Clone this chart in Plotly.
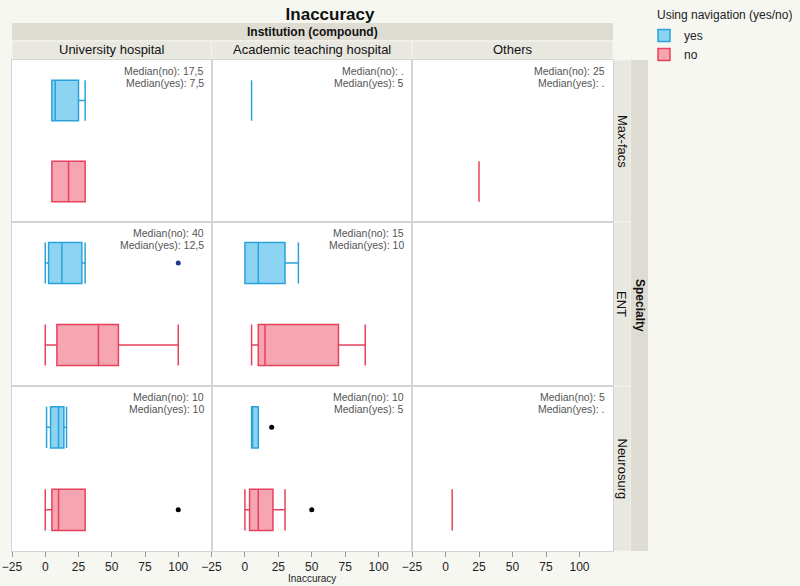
import plotly.graph_objects as go

# ---------------- data ----------------
specialties = ["Max-facs", "ENT", "Neurosurg"]
institutions = ["University hospital", "Academic teaching hospital", "Others"]
groups = ["yes", "no"]

# five-number summaries per [specialty][institution]; None = no data
yes_min = [[5, 5, None], [0, 0, None], [1, 5, None]]
yes_q1 = [[5, 5, None], [2.5, 0, None], [4, 5, None]]
yes_med = [[7.5, 5, None], [12.5, 10, None], [10, 5, None]]
yes_q3 = [[25, 5, None], [27.5, 30, None], [14, 10, None]]
yes_max = [[30, 5, None], [30, 40, None], [16, 10, None]]
yes_out = [[[], [], []], [[100], [], []], [[], [20], []]]

no_min = [[5, None, 25], [0, 5, None], [0, 0, 5]]
no_q1 = [[5, None, 25], [8.75, 10, None], [5, 3.5, 5]]
no_med = [[17.5, None, 25], [40, 15, None], [10, 10, 5]]
no_q3 = [[30, None, 25], [55, 70, None], [30, 21, 5]]
no_max = [[30, None, 25], [100, 90, None], [30, 30, 5]]
no_out = [[[], [], []], [[], [], []], [[100], [50], []]]

x_ticks = [-25, 0, 25, 50, 75, 100]
x_range = [-25, 125]

# ---------------- styling ----------------
YES_LINE, YES_FILL = "#2aa3dc", "rgba(120,205,238,0.85)"
NO_LINE, NO_FILL = "#e8415c", "rgba(243,150,165,0.85)"
BG = "#f7f7f2"
STRIP = "#e8e7e0"
STRIP2 = "#dfddd3"
FONT = "Liberation Sans, Arial, sans-serif"

W, H = 800, 586
L, R, T, B = 12, 187, 60, 35
PW, PH = W - L - R, H - T - B
col_px = [12, 211.5, 412, 613]
row_px = [60, 222, 386, 551]


def px_x(p):
    return (p - L) / PW


def px_y(p):
    return (H - B - p) / PH


fig = go.Figure()
layout = {}


def fmt(v):
    if v is None:
        return "."
    s = ("%g" % v)
    return s.replace(".", ",")


def label(x, y, text, size=12, color="#111", angle=0, xanchor="center"):
    fig.add_annotation(x=px_x(x), y=px_y(y), xref="paper", yref="paper", text=text,
                       showarrow=False, xanchor=xanchor, yanchor="middle", textangle=angle,
                       font=dict(size=size, color=color, family=FONT))


shown = {"yes": False, "no": False}
for r in range(3):
    for c in range(3):
        idx = r * 3 + c + 1
        xa = "x" if idx == 1 else "x%d" % idx
        ya = "y" if idx == 1 else "y%d" % idx
        xd = [px_x(col_px[c]), px_x(col_px[c + 1])]
        yd = [px_y(row_px[r + 1]), px_y(row_px[r])]
        bottom = r == 2
        layout["xaxis" if idx == 1 else "xaxis%d" % idx] = dict(
            domain=xd, anchor=ya, range=x_range, showgrid=False, zeroline=False,
            showline=True, mirror=True, linecolor="#d4d4d4", linewidth=1,
            tickvals=x_ticks, showticklabels=bottom,
            ticks="outside" if bottom else "", ticklen=5, tickcolor="#999",
            tickfont=dict(size=12, color="#222", family=FONT), fixedrange=True,
        )
        layout["yaxis" if idx == 1 else "yaxis%d" % idx] = dict(
            domain=yd, anchor=xa, range=[-0.5, 1.5], showgrid=False, zeroline=False,
            showline=True, mirror=True, linecolor="#d4d4d4", linewidth=1,
            showticklabels=False, ticks="", fixedrange=True,
        )
        # keep every panel active (white background even when empty)
        fig.add_trace(go.Scatter(x=[None], y=[None], mode="markers", showlegend=False,
                                 xaxis=xa, yaxis=ya, hoverinfo="skip"))
        for g, mn, q1, md, q3, mx, outl, lc, fc, pos in [
            ("yes", yes_min, yes_q1, yes_med, yes_q3, yes_max, yes_out, YES_LINE, YES_FILL, 1),
            ("no", no_min, no_q1, no_med, no_q3, no_max, no_out, NO_LINE, NO_FILL, 0),
        ]:
            if md[r][c] is not None:
                fig.add_trace(go.Box(
                    y=[pos], q1=[q1[r][c]], median=[md[r][c]], q3=[q3[r][c]],
                    lowerfence=[mn[r][c]], upperfence=[mx[r][c]], orientation="h",
                    width=0.5, whiskerwidth=1, line=dict(color=lc, width=1.5),
                    fillcolor=fc, name=g, legendgroup=g, showlegend=not shown[g],
                    boxpoints=False, xaxis=xa, yaxis=ya, hoverinfo="skip",
                ))
                shown[g] = True
            if outl[r][c]:
                oc = "#1c3c94" if g == "yes" and r == 1 else "#000000"
                fig.add_trace(go.Scatter(
                    x=outl[r][c], y=[pos] * len(outl[r][c]), mode="markers",
                    marker=dict(color=oc, size=5), showlegend=False,
                    xaxis=xa, yaxis=ya, hoverinfo="skip",
                ))
        # median annotation
        if (no_med[r][c] is not None) or (yes_med[r][c] is not None):
            label(col_px[c + 1] - 6, row_px[r] + 11, "Median(no): %s" % fmt(no_med[r][c]),
                  size=10.5, color="#555", xanchor="right")
            label(col_px[c + 1] - 6, row_px[r] + 23, "Median(yes): %s" % fmt(yes_med[r][c]),
                  size=10.5, color="#555", xanchor="right")

shapes = []
# Institution strip
shapes.append(dict(type="rect", xref="paper", yref="paper", x0=px_x(12), x1=px_x(613),
                   y0=px_y(40.5), y1=px_y(23), fillcolor=STRIP2, line=dict(width=0), layer="below"))
label(312, 32, "<b>Institution (compound)</b>")
for c in range(3):
    shapes.append(dict(type="rect", xref="paper", yref="paper", x0=px_x(col_px[c]), x1=px_x(col_px[c + 1]),
                       y0=px_y(59), y1=px_y(41), fillcolor=STRIP, line=dict(width=1, color="#f4f4ef"),
                       layer="below"))
    label((col_px[c] + col_px[c + 1]) / 2, 50, institutions[c], size=13)
# Row strips
for r in range(3):
    shapes.append(dict(type="rect", xref="paper", yref="paper", x0=px_x(613.5), x1=px_x(631),
                       y0=px_y(row_px[r + 1]), y1=px_y(row_px[r]), fillcolor=STRIP,
                       line=dict(width=1, color="#f4f4ef"), layer="below"))
    label(622, (row_px[r] + row_px[r + 1]) / 2, specialties[r], angle=90, size=13)
shapes.append(dict(type="rect", xref="paper", yref="paper", x0=px_x(631), x1=px_x(648),
                   y0=px_y(551), y1=px_y(60), fillcolor=STRIP2, line=dict(width=0), layer="below"))
label(640, 305, "<b>Specialty</b>", angle=90)
# axis title
label(312, 578, "Inaccuracy", size=10, color="#222")
# legend title
label(655, 15, "Using navigation (yes/no)", size=12, color="#222", xanchor="left")

fig.update_layout(
    width=W, height=H, margin=dict(l=L, r=R, t=T, b=B, autoexpand=False),
    paper_bgcolor=BG, plot_bgcolor="white",
    title=dict(text="<b>Inaccuracy</b>", x=px_x(330), xref="paper", xanchor="center",
               y=1 - 14 / H, yanchor="middle", font=dict(size=17, color="#111", family=FONT)),
    shapes=shapes,
    legend=dict(x=px_x(644), y=px_y(21), xref="paper", yref="paper", xanchor="left", yanchor="top",
                font=dict(size=12, color="#222", family=FONT), bgcolor="rgba(0,0,0,0)",
                itemwidth=30, tracegroupgap=0),
    font=dict(family=FONT),
    **layout,
)

fig.write_html("out.html", config={"displayModeBar": False},
               post_script="document.body.style.margin='0';document.body.style.background='#f7f7f2';")
